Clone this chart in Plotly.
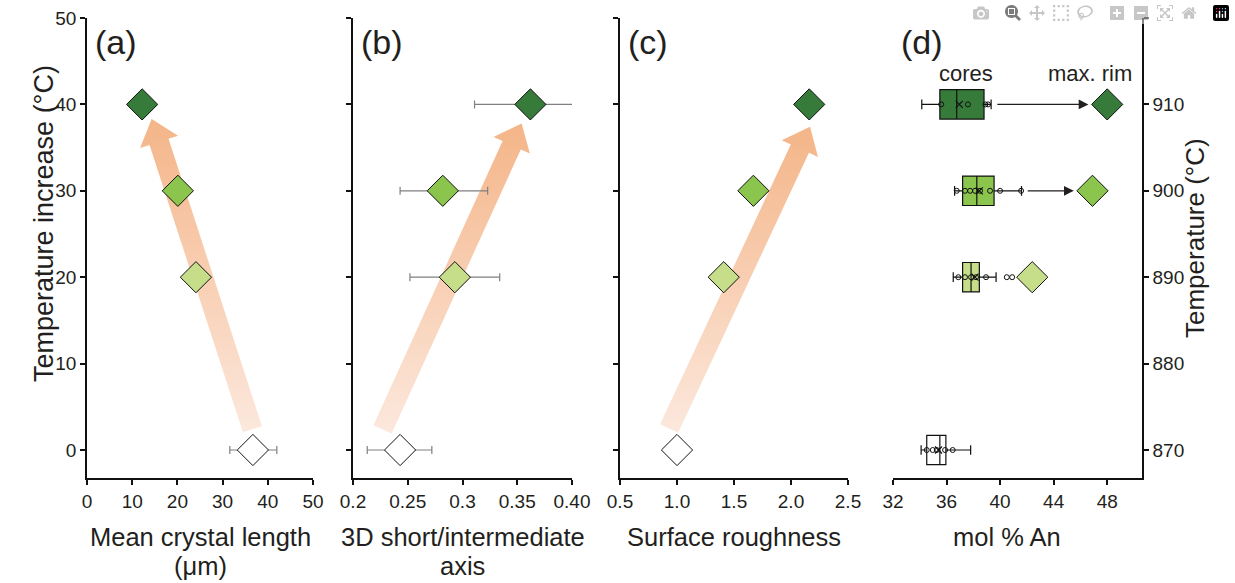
import plotly.graph_objects as go
import numpy as np

W, H = 1235, 583
FONT = "Arial, Liberation Sans, Helvetica, sans-serif"
TXT = "#231f20"

# ---------------- data ----------------
temp_increase = [0, 20, 30, 40]
marker_colors = ["#ffffff", "#c6de8a", "#8bc54e", "#367b39"]

crystal_length = [36.7, 24.1, 20.1, 12.2]
crystal_err_minus = [5.1, 0, 0, 0]
crystal_err_plus = [5.3, 0, 0, 0]

axis_ratio = [0.243, 0.293, 0.282, 0.362]
axis_err_minus = [0.030, 0.041, 0.039, 0.051]
axis_err_plus = [0.029, 0.041, 0.041, 0.049]

roughness = [1.0, 1.41, 1.67, 2.16]

# panel (d): plagioclase core statistics (mol % An)
box_temps = [870, 890, 900, 910]
box_colors = ["#ffffff", "#c6de8a", "#8bc54e", "#367b39"]
box_q1 = [34.52, 37.2, 37.2, 35.5]
box_median = [35.5, 37.83, 38.26, 36.76]
box_q3 = [35.95, 38.45, 39.55, 38.8]
box_low = [34.1, 36.5, 36.6, 34.15]
box_high = [37.8, 39.7, 41.6, 39.33]
box_mean = [35.4, 38.13, 38.45, 36.95]
box_points = [
    [34.52, 34.97, 35.27, 35.89, 36.46],
    [36.88, 37.38, 37.83, 38.2, 38.95, 40.5, 40.9],
    [36.76, 37.38, 37.76, 38.13, 38.5, 39.25, 40.0, 41.57],
    [35.6, 37.6, 38.9, 39.1],
]
rim_temps = [890, 900, 910]
rim_an = [42.4, 46.9, 48.0]
rim_colors = ["#c6de8a", "#8bc54e", "#367b39"]
arrow_temps = [900, 910]

# trend arrows (tail -> tip) in data units of each panel
trend_a = [(36.6, 2.4), (14.3, 38.3)]
trend_b = [(0.227, 2.4), (0.354, 37.8)]
trend_c = [(0.931, 2.5), (2.167, 37.4)]

xtitles = [["Mean crystal length", "(μm)"], ["3D short/intermediate", "axis"],
           ["Surface roughness"], ["mol % An"]]

# ---------------- layout geometry ----------------
dom_y = [1 - 478 / H, 1 - 18 / H]
dom_a = [87 / W, 313 / W]
dom_b = [353 / W, 572 / W]
dom_c = [620 / W, 848 / W]
dom_d = [893 / W, 1142 / W]
yr = [-3.24, 50]
rng_a = [0, 50]
rng_b = [0.2, 0.4]
rng_c = [0.5, 2.5]
rng_d = [32, 50.6]
yr_right = [870 + yr[0], 870 + yr[1]]

fig = go.Figure()


def arrow_poly(tail, tip, dom, rng, shaft=20, head_w=40, head_l=24):
    sx = (dom[1] - dom[0]) * W / (rng[1] - rng[0])
    sy = (dom_y[1] - dom_y[0]) * H / (yr[1] - yr[0])
    p0 = np.array([tail[0] * sx, tail[1] * sy])
    p1 = np.array([tip[0] * sx, tip[1] * sy])
    d = (p1 - p0) / np.linalg.norm(p1 - p0)
    n = np.array([-d[1], d[0]])
    b = p1 - d * head_l
    pts = [p0 + n * shaft / 2, b + n * shaft / 2, b + n * head_w / 2, p1,
           b - n * head_w / 2, b - n * shaft / 2, p0 - n * shaft / 2, p0 + n * shaft / 2]
    xs = [p[0] / sx for p in pts]
    ys = [p[1] / sy for p in pts]
    return xs, ys


for tr, dom, rng, xa, ya in [(trend_a, dom_a, rng_a, "x", "y"),
                             (trend_b, dom_b, rng_b, "x2", "y2"),
                             (trend_c, dom_c, rng_c, "x3", "y3")]:
    xs, ys = arrow_poly(tr[0], tr[1], dom, rng)
    fig.add_trace(go.Scatter(
        x=xs, y=ys, mode="lines", fill="toself", line=dict(width=0),
        fillgradient=dict(type="vertical",
                          colorscale=[[0, "rgb(252,232,221)"], [1, "rgb(244,181,136)"]]),
        hoverinfo="skip", showlegend=False, xaxis=xa, yaxis=ya))

err_style = dict(color="#808080", thickness=1.2, width=4)
mk = dict(symbol="diamond", size=24, color=marker_colors, line=dict(color="#111", width=1))

fig.add_trace(go.Scatter(
    x=crystal_length, y=temp_increase, mode="markers", marker=mk,
    error_x=dict(type="data", symmetric=False, array=crystal_err_plus,
                 arrayminus=crystal_err_minus, **err_style),
    showlegend=False, xaxis="x", yaxis="y"))
fig.add_trace(go.Scatter(
    x=axis_ratio, y=temp_increase, mode="markers", marker=mk,
    error_x=dict(type="data", symmetric=False, array=axis_err_plus,
                 arrayminus=axis_err_minus, **err_style),
    showlegend=False, xaxis="x2", yaxis="y2"))
fig.add_trace(go.Scatter(
    x=roughness, y=temp_increase, mode="markers", marker=mk,
    showlegend=False, xaxis="x3", yaxis="y3"))

# panel (d) boxes
for i, t in enumerate(box_temps):
    fig.add_trace(go.Box(
        y=[t], q1=[box_q1[i]], median=[box_median[i]], q3=[box_q3[i]],
        lowerfence=[box_low[i]], upperfence=[box_high[i]],
        orientation="h", width=3.4, whiskerwidth=0.33,
        fillcolor=box_colors[i], line=dict(color="#111", width=1.2),
        boxpoints=False, showlegend=False, hoverinfo="skip",
        xaxis="x4", yaxis="y5"))
    fig.add_trace(go.Scatter(
        x=box_points[i], y=[t] * len(box_points[i]), mode="markers",
        marker=dict(symbol="circle-open", size=5, color="#111", line=dict(width=1)),
        showlegend=False, xaxis="x4", yaxis="y5"))
    fig.add_trace(go.Scatter(
        x=[box_mean[i]], y=[t], mode="markers",
        marker=dict(symbol="x-thin-open", size=7, color="#111", line=dict(width=1.2)),
        showlegend=False, xaxis="x4", yaxis="y5"))

fig.add_trace(go.Scatter(
    x=rim_an, y=rim_temps, mode="markers",
    marker=dict(symbol="diamond", size=24, color=rim_colors, line=dict(color="#111", width=1)),
    showlegend=False, xaxis="x4", yaxis="y5"))

annotations = []
for t in arrow_temps:
    i = box_temps.index(t)
    j = rim_temps.index(t)
    start = max(box_high[i], max(box_points[i])) + 0.35
    tip = rim_an[j] - 1.4
    annotations.append(dict(
        x=tip, y=t, ax=start, ay=t, xref="x4", yref="y5", axref="x4", ayref="y5",
        showarrow=True, arrowhead=2, arrowsize=1.5, arrowwidth=1.3,
        arrowcolor="#231f20", text=""))

annotations.append(dict(x=37.45, y=913.6, xref="x4", yref="y5", text="cores",
                        showarrow=False, font=dict(size=22, color=TXT, family=FONT)))
annotations.append(dict(x=46.75, y=913.6, xref="x4", yref="y5", text="max. rim",
                        showarrow=False, font=dict(size=22, color=TXT, family=FONT)))

for lab, dom in [("(a)", dom_a), ("(b)", dom_b), ("(c)", dom_c), ("(d)", dom_d)]:
    annotations.append(dict(x=dom[0] + 6 / W, y=1 - 42 / H, xref="paper", yref="paper",
                            xanchor="left", yanchor="middle", text=lab, showarrow=False,
                            font=dict(size=34, color=TXT, family=FONT)))

xtitle_x = [(dom_a[0] + dom_a[1]) / 2, (dom_b[0] + dom_b[1]) / 2,
            (dom_c[0] + dom_c[1]) / 2, 1007 / W]
line_y = [537, 566]
for lines, xc in zip(xtitles, xtitle_x):
    for k, txt in enumerate(lines):
        annotations.append(dict(x=xc, y=1 - line_y[k] / H, xref="paper", yref="paper",
                                xanchor="center", yanchor="middle", text=txt, showarrow=False,
                                font=dict(size=25.5, color=TXT, family=FONT)))

annotations.append(dict(x=27 / W, y=1 - 224 / H, xref="paper", yref="paper", textangle=-90,
                        text="Temperature increase (°C)", showarrow=False,
                        font=dict(size=27, color=TXT, family=FONT)))
annotations.append(dict(x=1212 / W, y=1 - 238 / H, xref="paper", yref="paper", textangle=-90,
                        text="Temperature (°C)", showarrow=False,
                        font=dict(size=26, color=TXT, family=FONT)))

ax_common = dict(showline=True, linecolor="#111", linewidth=1.5, ticks="outside",
                 ticklen=5, tickwidth=1.5, tickcolor="#111", showgrid=False, zeroline=False,
                 automargin=False,
                 tickfont=dict(size=19, color=TXT, family=FONT))
ytick = [0, 10, 20, 30, 40, 50]

fig.update_layout(
    template="none",
    width=W, height=H, margin=dict(l=0, r=0, t=0, b=0, pad=0, autoexpand=False),
    plot_bgcolor="white", paper_bgcolor="white",
    font=dict(family=FONT, color=TXT),
    xaxis=dict(domain=dom_a, range=rng_a, tickvals=[0, 10, 20, 30, 40, 50], anchor="y", **ax_common),
    yaxis=dict(domain=dom_y, range=yr, tickvals=ytick, anchor="x", **ax_common),
    xaxis2=dict(domain=dom_b, range=rng_b, tickvals=[0.2, 0.25, 0.3, 0.35, 0.4],
                ticktext=["0.2", "0.25", "0.3", "0.35", "0.40"], anchor="y2", **ax_common),
    yaxis2=dict(domain=dom_y, range=yr, tickvals=ytick, showticklabels=False, anchor="x2", **ax_common),
    xaxis3=dict(domain=dom_c, range=rng_c, tickvals=[0.5, 1.0, 1.5, 2.0, 2.5],
                tickformat=".1f", anchor="y3", **ax_common),
    yaxis3=dict(domain=dom_y, range=yr, tickvals=ytick, showticklabels=False, anchor="x3", **ax_common),
    xaxis4=dict(domain=dom_d, range=rng_d, tickvals=[32, 36, 40, 44, 48], anchor="y4", **ax_common),
    yaxis4=dict(domain=dom_y, range=yr, tickvals=ytick, showticklabels=False, anchor="x4", **ax_common),
    yaxis5=dict(domain=dom_y, range=yr_right, tickvals=[870, 880, 890, 900, 910, 920],
                ticktext=["870", "880", "890", "900", "910", ""],
                overlaying="y4", side="right", anchor="x4", **ax_common),
    annotations=annotations,
)

fig.write_html("out.html", post_script="document.body.style.margin='0';")
